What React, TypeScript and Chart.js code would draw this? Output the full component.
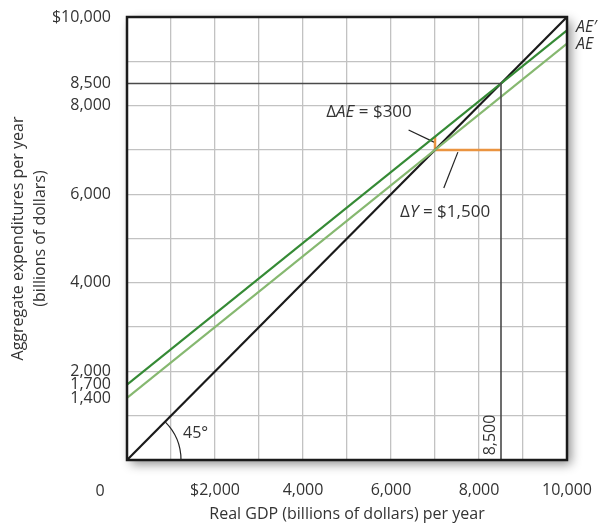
import React, { useEffect, useRef } from "react";
import { Chart, registerables } from "chart.js";
Chart.register(...registerables);

// ---- data ----
const xTickLabels = [0, 2000, 4000, 6000, 8000, 10000];
const yTickLabels = [1400, 1700, 2000, 4000, 6000, 8000, 8500, 10000];
const axisMax = 10000;
const gridStep = 1000;
const line45 = [{ x: 0, y: 0 }, { x: 10000, y: 10000 }];
const aeLine = [{ x: 0, y: 1400 }, { x: 10000, y: 9400 }];
const aePrimeLine = [{ x: 0, y: 1700 }, { x: 10000, y: 9700 }];
const deltaAESeg = [{ x: 7000, y: 7300 }, { x: 7000, y: 7000 }];
const deltaYSeg = [{ x: 7000, y: 7000 }, { x: 8500, y: 7000 }];
const equilibriumGuide = [{ x: 0, y: 8500 }, { x: 8500, y: 8500 }, { x: 8500, y: 0 }];
const leaderAE = [{ x: 6400, y: 7450 }, { x: 6990, y: 7170 }];
const leaderY = [{ x: 7200, y: 6140 }, { x: 7520, y: 6950 }];

const FONT = "'Open Sans', 'Noto Sans', sans-serif";
const TEXT = "#333333";
const GRID = "#c2c2c2";
const TICK_SIZE = 16;

const fmt = (v: number, dollar: boolean) =>
  (dollar ? "$" : "") + v.toLocaleString("en-US");

function drawRich(ctx: CanvasRenderingContext2D, parts: [string, boolean][], cx: number, cy: number, size: number) {
  let total = 0;
  const widths = parts.map(([t, it]) => {
    ctx.font = `${it ? "italic " : ""}${size}px ${FONT}`;
    const w = ctx.measureText(t).width;
    total += w;
    return w;
  });
  let x = cx - total / 2;
  ctx.textAlign = "left";
  ctx.textBaseline = "middle";
  parts.forEach(([t, it], i) => {
    ctx.font = `${it ? "italic " : ""}${size}px ${FONT}`;
    ctx.fillText(t, x, cy);
    x += widths[i];
  });
}

const framePlugin = {
  id: "frame",
  beforeDraw(chart: any) {
    const { ctx, chartArea: a } = chart;
    ctx.save();
    ctx.fillStyle = "#ffffff";
    ctx.shadowColor = "rgba(0,0,0,0.45)";
    ctx.shadowBlur = 10;
    ctx.shadowOffsetX = 4;
    ctx.shadowOffsetY = 4;
    ctx.fillRect(a.left, a.top, a.right - a.left, a.bottom - a.top);
    ctx.restore();
  },
  afterDatasetsDraw(chart: any) {
    const { ctx, chartArea: a } = chart;
    ctx.save();
    ctx.strokeStyle = "#1a1a1a";
    ctx.lineWidth = 2.5;
    ctx.strokeRect(a.left, a.top, a.right - a.left, a.bottom - a.top);
    ctx.restore();
  },
  afterDraw(chart: any) {
    const { ctx, chartArea: a, scales } = chart;
    const xs = scales.x, ys = scales.y;
    ctx.save();
    ctx.fillStyle = TEXT;
    // axis titles
    ctx.font = `16px ${FONT}`;
    ctx.textAlign = "center";
    ctx.textBaseline = "middle";
    ctx.fillText("Real GDP (billions of dollars) per year", (a.left + a.right) / 2, 514);
    ctx.save();
    ctx.translate(18, (a.top + a.bottom) / 2);
    ctx.rotate(-Math.PI / 2);
    ctx.fillText("Aggregate expenditures per year", 0, 0);
    ctx.fillText("(billions of dollars)", 0, 22);
    ctx.restore();
    // origin label
    ctx.font = `${TICK_SIZE}px ${FONT}`;
    ctx.fillText("0", xs.getPixelForValue(0) - 27, 491);
    // rotated 8,500
    ctx.save();
    ctx.translate(xs.getPixelForValue(8500) - 11, ys.getPixelForValue(0) - 25);
    ctx.rotate(-Math.PI / 2);
    ctx.font = `${TICK_SIZE}px ${FONT}`;
    ctx.fillText("8,500", 0, 0);
    ctx.restore();
    // 45 degree arc
    const ox = xs.getPixelForValue(0), oy = ys.getPixelForValue(0);
    ctx.strokeStyle = "#222";
    ctx.lineWidth = 1.2;
    ctx.beginPath();
    ctx.arc(ox, oy, 54, -Math.PI / 4, 0);
    ctx.stroke();
    ctx.font = `${TICK_SIZE}px ${FONT}`;
    ctx.textAlign = "left";
    ctx.fillText("45°", ox + 56, oy - 27);
    // annotations
    drawRich(ctx, [["Δ", false], ["AE", true], [" = $300", false]], xs.getPixelForValue(5500), ys.getPixelForValue(7850), 17);
    drawRich(ctx, [["Δ", false], ["Y", true], [" = $1,500", false]], xs.getPixelForValue(7230), ys.getPixelForValue(5600), 17);
    // line labels
    ctx.font = `italic 16px ${FONT}`;
    ctx.textAlign = "left";
    ctx.fillText("AE′", a.right + 9, ys.getPixelForValue(9770));
    ctx.fillText("AE", a.right + 9, ys.getPixelForValue(9370));
    ctx.restore();
  },
};

export default function App() {
  const ref = useRef<HTMLCanvasElement>(null);
  useEffect(() => {
    document.body.style.margin = "0";
    const seg = (data: any[], color: string, width: number) => ({
      data,
      borderColor: color,
      borderWidth: width,
      showLine: true,
      pointRadius: 0,
      fill: false,
      tension: 0,
    });
    const chart = new Chart(ref.current!, {
      type: "scatter",
      data: {
        datasets: [
          seg(equilibriumGuide, "#4a4a4a", 1.6),
          seg(aeLine, "#86b870", 2.2),
          seg(aePrimeLine, "#358a35", 2.2),
          seg(line45, "#1a1a1a", 2.2),
          seg(deltaYSeg, "#ea9440", 2.5),
          seg(deltaAESeg, "#ea9440", 2.5),
          seg(leaderAE, "#222222", 1.2),
          seg(leaderY, "#222222", 1.2),
        ],
      },
      options: {
        animation: false,
        responsive: false,
        events: [],
        layout: { padding: { top: 17, right: 33, left: 0, bottom: 0 } },
        plugins: { legend: { display: false }, tooltip: { enabled: false } },
        scales: {
          x: {
            type: "linear",
            min: 0,
            max: axisMax,
            border: { display: false },
            afterFit: (s: any) => {
              s.height = 65;
              s.paddingLeft = 0;
              s.paddingRight = 0;
            },
            afterBuildTicks: (s: any) => {
              const t = [];
              for (let v = 0; v <= axisMax; v += gridStep) t.push({ value: v });
              s.ticks = t;
            },
            grid: {
              drawTicks: false,
              lineWidth: 1.3,
              color: (c: any) => {
                const v = c.tick?.value;
                return v === 0 || v === axisMax ? "rgba(0,0,0,0)" : GRID;
              },
            },
            ticks: {
              autoSkip: false,
              maxRotation: 0,
              padding: 21,
              color: TEXT,
              font: { family: FONT, size: TICK_SIZE },
              callback: (v: any) =>
                xTickLabels.includes(v) && v !== 0 ? fmt(v, v === xTickLabels[1]) : "",
            },
          },
          y: {
            type: "linear",
            min: 0,
            max: axisMax,
            border: { display: false },
            afterFit: (s: any) => {
              s.width = 127;
              s.paddingTop = 0;
              s.paddingBottom = 0;
            },
            afterBuildTicks: (s: any) => {
              const set = new Set<number>();
              for (let v = 0; v <= axisMax; v += gridStep) set.add(v);
              yTickLabels.forEach((v) => set.add(v));
              s.ticks = [...set].sort((a, b) => a - b).map((v) => ({ value: v }));
            },
            grid: {
              drawTicks: false,
              lineWidth: 1.3,
              color: (c: any) => {
                const v = c.tick?.value;
                if (v === undefined || v % gridStep !== 0 || v === 0 || v === axisMax) return "rgba(0,0,0,0)";
                return GRID;
              },
            },
            ticks: {
              autoSkip: false,
              padding: 16,
              color: TEXT,
              font: { family: FONT, size: TICK_SIZE, lineHeight: 1 },
              callback: (v: any) =>
                yTickLabels.includes(v) ? fmt(v, v === axisMax) : "",
            },
          },
        },
      },
      plugins: [framePlugin],
    });
    return () => chart.destroy();
  }, []);
  return (
    <div style={{ width: 600, height: 525, background: "#fff" }}>
      <canvas ref={ref} width={600} height={525} />
    </div>
  );
}
